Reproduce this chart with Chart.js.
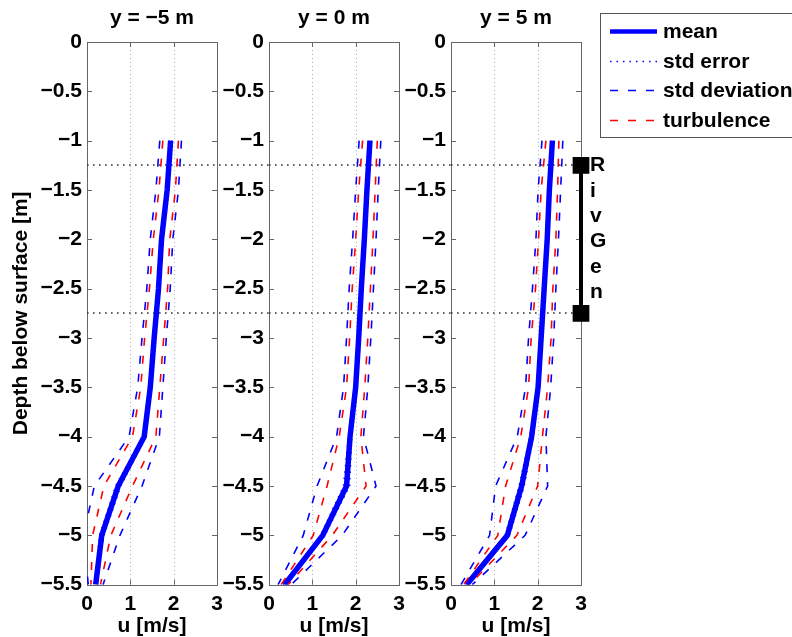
<!DOCTYPE html>
<html>
<head>
<meta charset="utf-8">
<script src="https://cdn.jsdelivr.net/npm/chart.js@4.4.0/dist/chart.umd.min.js"></script>
<style>
body { margin: 0; background: #fff; }
#wrap { position: relative; width: 792px; height: 637px; overflow: hidden; }
#wrap canvas { position: absolute; top: 0; }
</style>
</head>
<body>
<div id="wrap">
  <canvas id="c1" width="269" height="637" style="left:0px"></canvas>
  <canvas id="c2" width="234" height="637" style="left:217px"></canvas>
  <canvas id="c3" width="393" height="637" style="left:399px"></canvas>
</div>
<script>
'use strict';
// depths (m below surface) shared by all three profiles
var depth = [-1, -1.5, -2, -2.5, -3, -3.5, -4, -4.5, -5, -5.5];
var panelTitles = ['y = \u22125 m', 'y = 0 m', 'y = 5 m'];

// y = -5 m
var meanA = [1.93, 1.85, 1.72, 1.65, 1.55, 1.46, 1.32, 0.72, 0.34, 0.20];
var seA   = [0.03, 0.03, 0.03, 0.03, 0.03, 0.03, 0.04, 0.06, 0.05, 0.03];
var sdA   = [0.25, 0.26, 0.26, 0.27, 0.28, 0.29, 0.35, 0.55, 0.42, 0.17];
var tiA   = [0.18, 0.19, 0.19, 0.21, 0.22, 0.22, 0.27, 0.33, 0.21, 0.11];
// y = 0 m
var meanB = [2.33, 2.26, 2.20, 2.13, 2.07, 2.00, 1.87, 1.79, 1.24, 0.36];
var seB   = [0.03, 0.03, 0.03, 0.03, 0.03, 0.03, 0.04, 0.07, 0.05, 0.03];
var sdB   = [0.25, 0.26, 0.27, 0.28, 0.28, 0.28, 0.31, 0.68, 0.45, 0.15];
var tiB   = [0.17, 0.19, 0.20, 0.21, 0.21, 0.21, 0.25, 0.45, 0.22, 0.08];
// y = 5 m
var meanC = [2.34, 2.27, 2.22, 2.15, 2.08, 2.01, 1.86, 1.63, 1.30, 0.36];
var seC   = [0.03, 0.03, 0.03, 0.03, 0.03, 0.03, 0.04, 0.06, 0.05, 0.03];
var sdC   = [0.24, 0.26, 0.26, 0.27, 0.29, 0.29, 0.33, 0.60, 0.41, 0.13];
var tiC   = [0.15, 0.19, 0.20, 0.20, 0.23, 0.22, 0.25, 0.37, 0.22, 0.07];

var legendLabels = ['mean', 'std error', 'std deviation', 'turbulence'];
// RivGen rotor depth range, drawn at u = 3
var rivgenDepths = [-1.25, -2.75];
var rivgenU = 3;
var rivgenText = 'RivGen';

var FONT = "'Liberation Sans', Arial, Helvetica, sans-serif";
var FS = 21;
Chart.defaults.font.family = FONT;
Chart.defaults.color = '#000';

function band(mean, off, sign) {
  return depth.map(function (d, i) { return { x: mean[i] + sign * off[i], y: d }; });
}

function lineSet(data, label, color, width, dash) {
  return {
    label: label, data: data, showLine: true, borderColor: color,
    borderWidth: width, borderDash: dash, pointRadius: 0, fill: false
  };
}

function makeSets(mean, se, sd, ti) {
  var sets = [];
  [-1, 1].forEach(function (s) { sets.push(lineSet(band(mean, sd, s), 'std deviation', '#0000ff', 1.6, [8, 10])); });
  [-1, 1].forEach(function (s) { sets.push(lineSet(band(mean, ti, s), 'turbulence', '#ff0000', 1.6, [8, 10])); });
  [-1, 1].forEach(function (s) { sets.push(lineSet(band(mean, se, s), 'std error', '#0000ff', 1.5, [1.5, 5])); });
  sets.push(lineSet(band(mean, se, 0), 'mean', '#0000ff', 5.5, []));
  return sets;
}

function minusLabel(v) {
  return v < 0 ? '\u2212' + Math.abs(v) : String(v);
}

// MATLAB style box, inward ticks and dotted x grid
var framePlugin = {
  id: 'frame',
  beforeDatasetsDraw: function (chart) {
    var a = chart.chartArea, ctx = chart.ctx, xs = chart.scales.x, ys = chart.scales.y;
    ctx.save();
    ctx.lineWidth = 1;
    ctx.strokeStyle = '#b0b0b0';
    ctx.setLineDash([1, 3]);
    xs.ticks.forEach(function (t) {
      if (t.value === xs.min || t.value === xs.max) return;
      var x = Math.round(xs.getPixelForValue(t.value)) + 0.5;
      ctx.beginPath(); ctx.moveTo(x, a.top); ctx.lineTo(x, a.bottom); ctx.stroke();
    });
    ctx.setLineDash([]);
    ctx.strokeStyle = '#666';
    ctx.strokeRect(Math.round(a.left) + 0.5, Math.round(a.top) + 0.5, Math.round(a.right - a.left), Math.round(a.bottom - a.top));
    ctx.beginPath();
    ys.ticks.forEach(function (t) {
      var y = Math.round(ys.getPixelForValue(t.value)) + 0.5;
      ctx.moveTo(a.left, y); ctx.lineTo(a.left + 5, y);
      ctx.moveTo(a.right, y); ctx.lineTo(a.right - 5, y);
    });
    xs.ticks.forEach(function (t) {
      var x = Math.round(xs.getPixelForValue(t.value)) + 0.5;
      ctx.moveTo(x, a.bottom); ctx.lineTo(x, a.bottom - 5);
      ctx.moveTo(x, a.top); ctx.lineTo(x, a.top + 5);
    });
    ctx.stroke();
    ctx.restore();
  }
};

// dotted horizontal lines at the RivGen depths, running across the gaps
var depthLinePlugin = {
  id: 'depthLines',
  beforeDatasetsDraw: function (chart, args, opts) {
    var a = chart.chartArea, ctx = chart.ctx, xs = chart.scales.x, ys = chart.scales.y;
    var x1 = opts.toEdge ? chart.width : xs.getPixelForValue(rivgenU);
    ctx.save();
    ctx.strokeStyle = '#333';
    ctx.lineWidth = 1.6;
    ctx.setLineDash([1.6, 4.4]);
    rivgenDepths.forEach(function (d) {
      var y = Math.round(ys.getPixelForValue(d));
      ctx.beginPath(); ctx.moveTo(a.left, y); ctx.lineTo(x1, y); ctx.stroke();
    });
    ctx.restore();
  }
};

var rivgenPlugin = {
  id: 'rivgen',
  afterDatasetsDraw: function (chart) {
    var ctx = chart.ctx, xs = chart.scales.x, ys = chart.scales.y;
    var x = xs.getPixelForValue(rivgenU) + 9;
    var y0 = ys.getPixelForValue(rivgenDepths[0]);
    ctx.save();
    ctx.fillStyle = '#000';
    ctx.font = 'bold ' + FS + 'px ' + FONT;
    ctx.textAlign = 'left';
    ctx.textBaseline = 'middle';
    rivgenText.split('').forEach(function (ch, i) { ctx.fillText(ch, x, y0 + i * 25.4); });
    ctx.restore();
  }
};

var legendPlugin = {
  id: 'boxLegend',
  afterDraw: function (chart) {
    var a = chart.chartArea, ctx = chart.ctx;
    var left = a.right + 19, top = 13, bottom = 137;
    ctx.save();
    ctx.fillStyle = '#fff';
    ctx.fillRect(left, top, chart.width - left + 5, bottom - top);
    ctx.strokeStyle = '#555';
    ctx.lineWidth = 1;
    ctx.strokeRect(left + 0.5, top + 0.5, chart.width - left + 5, bottom - top);
    ctx.font = 'bold ' + FS + 'px ' + FONT;
    ctx.textBaseline = 'middle';
    ctx.textAlign = 'left';
    legendLabels.forEach(function (lab, i) {
      var ds = chart.data.datasets.filter(function (d) { return d.label === lab; })[0];
      var y = Math.round(31 + i * 29.5) + 0.5;
      ctx.strokeStyle = ds.borderColor;
      ctx.lineWidth = lab === 'mean' ? 4.5 : ds.borderWidth;
      ctx.setLineDash(ds.borderDash || []);
      ctx.beginPath(); ctx.moveTo(left + 10, y); ctx.lineTo(left + 57, y); ctx.stroke();
      ctx.setLineDash([]);
      ctx.fillStyle = '#000';
      ctx.fillText(lab, left + 63, y + 1);
    });
    ctx.restore();
  }
};

function makePanel(id, idx, sets, yAxisWidth, padRight, extra) {
  var yScale = {
    type: 'linear', min: -5.5, max: 0,
    grid: { display: false, drawTicks: false }, border: { display: false },
    ticks: { stepSize: 0.5, padding: 5, font: { size: FS, weight: 'bold' }, callback: minusLabel },
    afterFit: function (s) { s.width = yAxisWidth; }
  };
  if (idx === 0) {
    yScale.title = { display: true, text: 'Depth below surface [m]', padding: { top: 11, bottom: 0 },
      font: { size: 21, weight: 'bold', lineHeight: 1 } };
  }
  var plugins = [framePlugin, depthLinePlugin].concat(extra || []);
  return new Chart(document.getElementById(id), {
    type: 'scatter',
    data: { datasets: sets },
    options: {
      responsive: false, animation: false, events: [],
      layout: { padding: { left: 0, right: padRight, top: 0, bottom: 0 } },
      plugins: {
        legend: { display: false }, tooltip: { enabled: false },
        title: { display: true, text: panelTitles[idx], fullSize: false, color: '#000',
          font: { size: FS, weight: 'bold', lineHeight: 1.2 }, padding: { top: 6, bottom: 10.8 } },
        depthLines: { toEdge: idx < 2 }
      },
      scales: {
        x: {
          type: 'linear', min: 0, max: 3, position: 'bottom',
          grid: { display: false, drawTicks: false }, border: { display: false },
          ticks: { stepSize: 1, padding: 7, font: { size: FS, weight: 'bold' } },
          title: { display: true, text: 'u [m/s]', padding: { top: -2, bottom: 0 },
            font: { size: FS, weight: 'bold', lineHeight: 1 } },
          afterFit: function (s) { s.height = 52.3; }
        },
        y: yScale
      }
    },
    plugins: plugins
  });
}

makePanel('c1', 0, makeSets(meanA, seA, sdA, tiA), 87, 52);
makePanel('c2', 1, makeSets(meanB, seB, sdB, tiB), 52, 52);

var setsC = makeSets(meanC, seC, sdC, tiC);
setsC.push({
  label: 'RivGen', showLine: true, clip: false,
  data: rivgenDepths.map(function (d) { return { x: rivgenU, y: d }; }),
  borderColor: '#000', borderWidth: 4, pointStyle: 'rect', pointRadius: 9,
  pointBackgroundColor: '#000', pointBorderColor: '#000'
});
makePanel('c3', 2, setsC, 52, 211, [rivgenPlugin, legendPlugin]);
</script>
</body>
</html>
